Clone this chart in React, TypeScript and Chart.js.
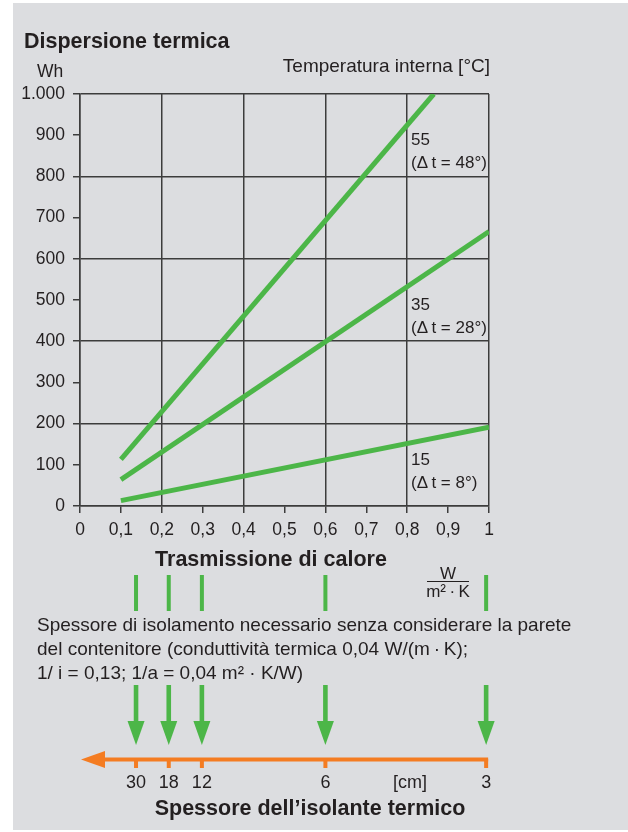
import React, { useEffect, useRef } from 'react';
import { Chart, registerables } from 'chart.js';

Chart.register(...registerables);

// ---- data ----
const xTickLabels = ['0', '0,1', '0,2', '0,3', '0,4', '0,5', '0,6', '0,7', '0,8', '0,9', '1'];
const yTickLabels = ['0', '100', '200', '300', '400', '500', '600', '700', '800', '900', '1.000'];

const seriesNames = ['15', '35', '55'];
const seriesDeltas = ['(Δ\u2009t = 8°)', '(Δ\u2009t = 28°)', '(Δ\u2009t = 48°)'];
const line15 = [{ x: 0.1, y: 13 }, { x: 1, y: 191 }];
const line35 = [{ x: 0.1, y: 64 }, { x: 1, y: 666 }];
const line55 = [{ x: 0.1, y: 113 }, { x: 0.865, y: 1000 }];

// heat transmission values (W/m²K) matching insulation thicknesses
const transmissionValues = [0.137, 0.217, 0.298, 0.6, 0.993];
const thicknessLabels = ['30', '18', '12', '6', '3'];

const titleText = 'Dispersione termica';
const yUnit = 'Wh';
const legendTitle = 'Temperatura interna [°C]';
const xTitle = 'Trasmissione di calore';
const noteLines = [
  'Spessore di isolamento necessario senza considerare la parete',
  'del contenitore (conduttività termica 0,04 W/(m\u2009·\u2009K);',
  '1/ i = 0,13; 1/a = 0,04 m² · K/W)',
];
const thicknessUnit = '[cm]';
const bottomTitle = 'Spessore dell’isolante termico';

// ---- styles ----
const FONT = '"Liberation Sans", Arial, Helvetica, sans-serif';
const INK = '#231f20';
const GRID = '#3c3c3c';
const GREEN = '#4cb648';
const ORANGE = '#f47c22';
const BG = '#dcdde0';

const W = 628;
const H = 832;

const overlay = {
  id: 'overlay',
  afterDraw(chart: any) {
    const ctx: CanvasRenderingContext2D = chart.ctx;
    const xs = chart.scales.x;
    ctx.save();
    ctx.fillStyle = INK;
    ctx.textBaseline = 'alphabetic';

    // titles
    ctx.textAlign = 'left';
    ctx.font = `bold 21.5px ${FONT}`;
    ctx.fillText(titleText, 24, 48);
    ctx.font = `17.5px ${FONT}`;
    ctx.fillText(yUnit, 37, 77);
    ctx.font = `19px ${FONT}`;
    ctx.textAlign = 'right';
    ctx.fillText(legendTitle, 490, 72);

    // series labels
    ctx.textAlign = 'left';
    ctx.font = `17px ${FONT}`;
    const lblBase = [465, 310, 145];
    for (let i = 0; i < seriesNames.length; i++) {
      ctx.fillText(seriesNames[i], 411, lblBase[i]);
      ctx.fillText(seriesDeltas[i], 411, lblBase[i] + 23);
    }

    // x title
    ctx.textAlign = 'center';
    ctx.font = `bold 21.5px ${FONT}`;
    ctx.fillText(xTitle, 271, 566);

    // unit fraction
    ctx.font = `17px ${FONT}`;
    ctx.fillText('W', 448, 579);
    ctx.fillText('m²\u2009·\u2009K', 448, 597);
    ctx.strokeStyle = INK;
    ctx.lineWidth = 1.2;
    ctx.beginPath();
    ctx.moveTo(427, 581.5);
    ctx.lineTo(469, 581.5);
    ctx.stroke();

    // green bars under the axis
    ctx.fillStyle = GREEN;
    for (const v of transmissionValues) {
      const px = xs.getPixelForValue(v);
      ctx.fillRect(px - 2, 575, 4, 36);
    }

    // note text
    ctx.fillStyle = INK;
    ctx.textAlign = 'left';
    ctx.font = `19px ${FONT}`;
    noteLines.forEach((t, i) => ctx.fillText(t, 37, 631 + i * 24));

    // green arrows
    ctx.fillStyle = GREEN;
    for (const v of transmissionValues) {
      const px = xs.getPixelForValue(v);
      ctx.fillRect(px - 2.3, 685, 4.6, 38);
      ctx.beginPath();
      ctx.moveTo(px - 8.5, 721);
      ctx.lineTo(px + 8.5, 721);
      ctx.lineTo(px, 745);
      ctx.closePath();
      ctx.fill();
    }

    // orange thickness axis
    ctx.fillStyle = ORANGE;
    const xEnd = xs.getPixelForValue(transmissionValues[transmissionValues.length - 1]) + 2;
    ctx.fillRect(100, 757.5, xEnd - 100, 4);
    ctx.beginPath();
    ctx.moveTo(81, 759.5);
    ctx.lineTo(105, 751);
    ctx.lineTo(105, 768);
    ctx.closePath();
    ctx.fill();
    for (const v of transmissionValues) {
      const px = xs.getPixelForValue(v);
      ctx.fillRect(px - 2, 759, 4, 9);
    }

    // thickness labels
    ctx.fillStyle = INK;
    ctx.textAlign = 'center';
    ctx.font = `18px ${FONT}`;
    transmissionValues.forEach((v, i) => {
      ctx.fillText(thicknessLabels[i], xs.getPixelForValue(v), 788);
    });
    ctx.fillText(thicknessUnit, 410, 788);

    ctx.font = `bold 21.5px ${FONT}`;
    ctx.fillText(bottomTitle, 310, 815);
    ctx.restore();
  },
};

export default function App() {
  const ref = useRef<HTMLCanvasElement | null>(null);

  useEffect(() => {
    const canvas = ref.current;
    if (!canvas) return;
    const lineDs = (data: { x: number; y: number }[]) => ({
      data,
      borderColor: GREEN,
      backgroundColor: GREEN,
      borderWidth: 5,
      pointRadius: 0,
      tension: 0,
      borderCapStyle: 'butt' as const,
    });
    const chart = new Chart(canvas, {
      type: 'line',
      data: {
        datasets: [lineDs(line15), lineDs(line35), lineDs(line55)],
      },
      options: {
        responsive: false,
        animation: false,
        devicePixelRatio: 1,
        layout: { padding: { left: 0, right: W - 489, top: 94, bottom: 0 } },
        plugins: { legend: { display: false }, tooltip: { enabled: false }, title: { display: false } },
        scales: {
          x: {
            type: 'linear',
            min: 0,
            max: 1,
            afterFit: (s: any) => { s.height = H - 506; },
            ticks: {
              stepSize: 0.1,
              color: INK,
              font: { family: FONT, size: 17.5 },
              padding: 7,
              maxRotation: 0,
              autoSkip: false,
              callback: (_v: any, i: number) => xTickLabels[i],
            },
            grid: {
              color: (c: any) => (Math.round(c.tick.value * 10) % 2 === 0 ? GRID : 'rgba(0,0,0,0)'),
              tickColor: GRID,
              lineWidth: 1.5,
              tickWidth: 1.5,
              tickLength: 7,
            },
            border: { color: GRID, width: 1.5 },
          },
          y: {
            type: 'linear',
            min: 0,
            max: 1000,
            afterFit: (s: any) => { s.width = 80; },
            ticks: {
              stepSize: 100,
              color: INK,
              font: { family: FONT, size: 17.5 },
              padding: 8,
              autoSkip: false,
              callback: (_v: any, i: number) => yTickLabels[i],
            },
            grid: {
              color: (c: any) => (Math.round(c.tick.value) % 200 === 0 ? GRID : 'rgba(0,0,0,0)'),
              tickColor: GRID,
              lineWidth: 1.5,
              tickWidth: 1.5,
              tickLength: 7,
            },
            border: { color: GRID, width: 1.5 },
          },
        },
      },
      plugins: [overlay],
    });
    return () => chart.destroy();
  }, []);

  return (
    <div style={{ position: 'absolute', left: 0, top: 0, width: W, height: H, background: '#ffffff' }}>
      <div style={{ position: 'absolute', left: 13, top: 3, width: W - 13, height: 827, background: BG }} />
      <canvas
        ref={ref}
        width={W}
        height={H}
        style={{ position: 'absolute', left: 0, top: 0, width: W, height: H }}
      />
    </div>
  );
}
